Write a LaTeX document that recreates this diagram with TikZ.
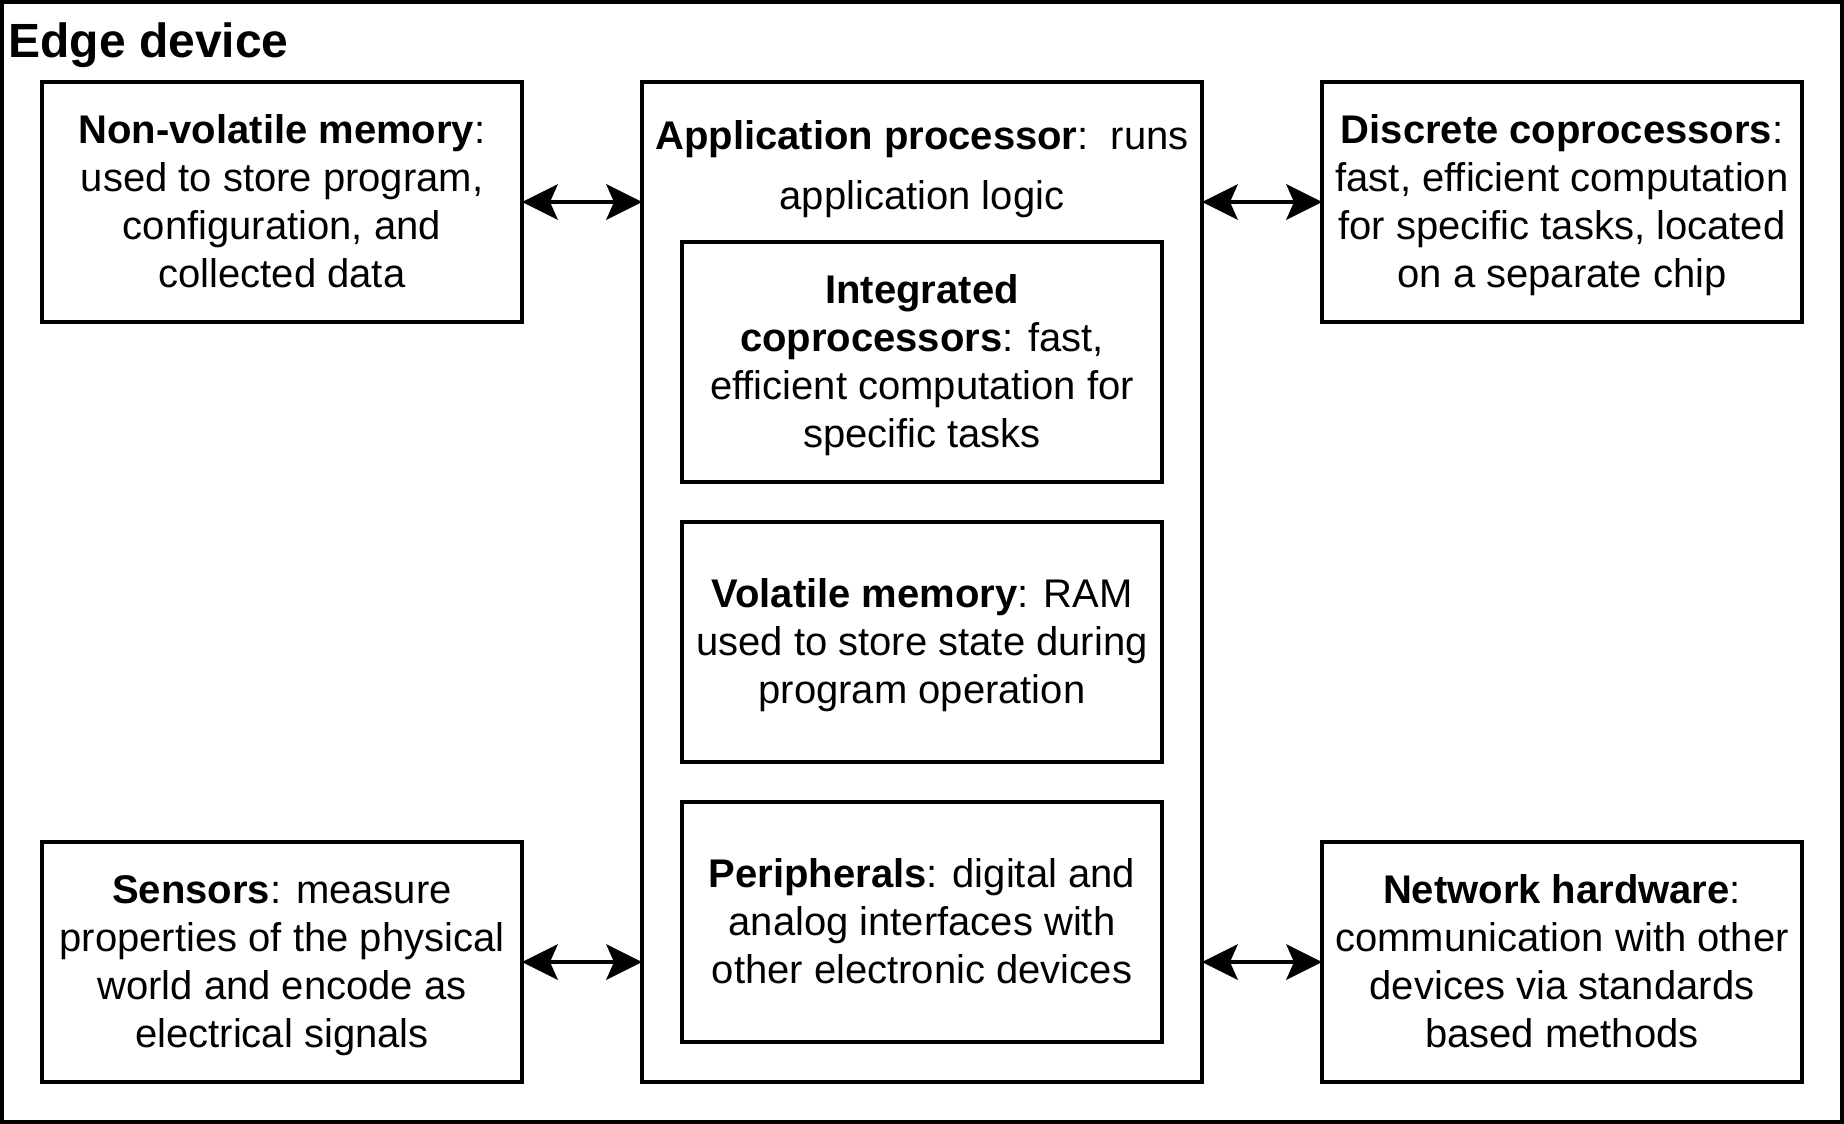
\documentclass[tikz,border=0pt]{standalone}
\usepackage{fontspec}
\setmainfont{Liberation Sans}
\usetikzlibrary{arrows.meta}
\newcommand\linestrut{\rule[-5.1pt]{0pt}{24pt}}
\tikzset{
  blk/.style={draw, line width=2pt, minimum width=240pt, minimum height=120pt,
    outer sep=0pt, inner sep=0pt, align=center, anchor=north west,
    font=\fontsize{20}{24}\selectfont, execute at end node=\linestrut},
  bigbox/.style={draw, line width=2pt, outer sep=0pt, inner sep=0pt, anchor=north west},
  tipx/.tip={Stealth[length=18pt,width=18pt,inset=4pt,line width=0pt]},
  link/.style={line width=2pt, tipx-tipx},
}
\begin{document}
\begin{tikzpicture}[x=1pt,y=-1pt]
\useasboundingbox (-1,-1) rectangle (921,561);
\node[bigbox, minimum width=920pt, minimum height=560pt] (frame) at (0,0) {};
\node[anchor=base west, inner sep=0pt, font=\fontsize{24}{28}\selectfont\bfseries] (title) at (3,27.5) {Edge device};

\node[bigbox, minimum width=280pt, minimum height=500pt] (app) at (320,40) {};
\node[align=center, inner sep=0pt, font=\fontsize{20}{30}\selectfont] (apptitle) at (460,83.8)
  {\textbf{Application processor}:\ \ runs\\application logic};

\node[blk] (nvm) at (20,40) {\linestrut\textbf{Non-volatile memory}:\\used to store program,\\configuration, and\\collected data};
\node[blk] (disc) at (660,40) {\linestrut\textbf{Discrete coprocessors}:\\fast, efficient computation\\for specific tasks, located\\on a separate chip};
\node[blk] (integ) at (340,120) {\linestrut\textbf{Integrated}\\\textbf{coprocessors}: fast,\\efficient computation for\\specific tasks};
\node[blk] (vol) at (340,260) {\linestrut\textbf{Volatile memory}: RAM\\used to store state during\\program operation};
\node[blk] (peri) at (340,400) {\linestrut\textbf{Peripherals}: digital and\\analog interfaces with\\other electronic devices};
\node[blk] (sens) at (20,420) {\linestrut\textbf{Sensors}: measure\\properties of the physical\\world and encode as\\electrical signals};
\node[blk] (net) at (660,420) {\linestrut\textbf{Network hardware}:\\communication with other\\devices via standards\\based methods};

\draw[link] (nvm.east) -- (nvm.east -| app.west);
\draw[link] (app.east |- disc.west) -- (disc.west);
\draw[link] (sens.east) -- (sens.east -| app.west);
\draw[link] (app.east |- net.west) -- (net.west);
\end{tikzpicture}
\end{document}
